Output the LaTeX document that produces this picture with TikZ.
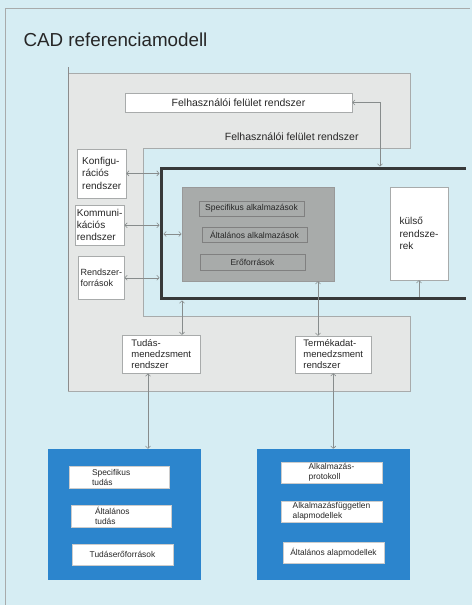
\documentclass[tikz,border=0pt]{standalone}
\usepackage{xcolor}
\usepackage{fontspec}
\setmainfont{Liberation Sans}
\usepackage{tikz}
\usetikzlibrary{calc}
\usetikzlibrary{arrows,arrows.meta}
\definecolor{hatter}{RGB}{214,237,243}
\definecolor{panel}{RGB}{229,231,230}
\definecolor{panelvonal}{RGB}{168,171,171}
\definecolor{sotet}{RGB}{168,171,170}
\definecolor{kek}{RGB}{44,133,205}
\definecolor{nyil}{RGB}{135,140,140}
\definecolor{keret}{RGB}{55,57,57}
\tikzstyle{every node}=[font=\fontsize{10}{12}\selectfont, text=black!85]
\tikzstyle{feher}=[draw=panelvonal, fill=white, inner sep=0pt, align=left]
\tikzstyle{szurke}=[draw=black!50, fill=sotet, inner sep=0pt, font=\fontsize{8.5}{10}\selectfont]
\tikzstyle{kekdoboz}=[fill=kek, inner sep=0pt]
\tikzstyle{belso}=[draw=black!20, fill=white, inner sep=0pt, align=left, font=\fontsize{8.4}{10}\selectfont]
\tikzstyle{kapcs}=[<->, >={To[length=3pt, width=5.5pt]}, draw=nyil, line width=.6pt]

\begin{document}
\begin{tikzpicture}[x=1pt, y=-1pt]
                \useasboundingbox (0,0) rectangle (472,605);
                \fill[hatter] (0,0) rectangle (472,605);
                \draw[panelvonal] (5,605) -- (5,8) -- (470,8);
                \node[anchor=base west, font=\fontsize{18.8}{22}\selectfont] (cim) at (20,46) {CAD referenciamodell};

                \draw[fill=panel, draw=panelvonal] (68,73) -- (410,73) -- (410,148) -- (143,148) -- (143,316.5) -- (410,316.5) -- (410,391) -- (68,391) -- cycle;
                \draw[black!45] (68,67) -- (68,391);
                \draw[keret, line width=3pt] (466,168.5) -- (161.5,168.5) -- (161.5,298.5) -- (466,298.5);

                \node[feher, minimum width=227pt, minimum height=19pt, font=\fontsize{10.5}{12}\selectfont] (ffr) at (238.5,102.5) {Felhasználói felület rendszer};
                \node[font=\fontsize{10.5}{12}\selectfont] (ffrfelirat) at (291.7,137) {Felhasználói felület rendszer};

                \node[feher, minimum width=48.7pt, minimum height=48.7pt, font=\fontsize{10}{12.3}\selectfont] (konfig) at (101.7,173.4) {Konfigu-\\rációs\\rendszer};
                \node[feher, minimum width=49.3pt, minimum height=39.3pt] (kommun) at (99.7,225.3) {Kommuni-\\kációs\\rendszer};
                \node[feher, minimum width=46pt, minimum height=42.3pt, font=\fontsize{9}{11.5}\selectfont] (rforr) at (101.3,277.8) {Rendszer-\\források};

                \node[szurke, draw=black!40, minimum width=152.3pt, minimum height=94pt] (alkalm) at (257.9,234) {};
                \node[szurke, minimum width=105pt, minimum height=15pt] (specalk) at (251.5,208.5) {Specifikus alkalmazások};
                \node[szurke, minimum width=105pt, minimum height=15pt] (altalk) at (254.5,234.5) {Általános alkalmazások};
                \node[szurke, minimum width=105pt, minimum height=16pt] (eroforr) at (252.5,262) {Erőforrások};

                \node[feher, minimum width=58pt, minimum height=93pt, font=\fontsize{10}{12.5}\selectfont] (kulso) at (419,233.5) {külső\\rendsze-\\rek};

                \node[feher, minimum width=77.3pt, minimum height=38.3pt, font=\fontsize{9.5}{11}\selectfont] (tudas) at (161.3,354.2) {Tudás-\\menedzsment\\rendszer};
                \node[feher, minimum width=76.7pt, minimum height=37pt, font=\fontsize{9.5}{11}\selectfont] (termek) at (333.3,354.5) {Termékadat-\\menedzsment\\rendszer};

                \node[kekdoboz, minimum width=153pt, minimum height=131pt] (tudasbazis) at (124.5,514.5) {};
                \node[kekdoboz, minimum width=153pt, minimum height=131pt] (termekmodell) at (333.5,514.5) {};

                \node[belso, minimum width=100pt, minimum height=22pt, text width=54pt, inner xsep=23pt] (spectud) at (119,477) {Specifikus\\tudás};
                \node[belso, minimum width=100pt, minimum height=22pt, text width=52pt, inner xsep=24pt] (alttud) at (121,516) {Általános\\tudás};
                \node[belso, minimum width=101pt, minimum height=21pt] (tudero) at (122.5,554.5) {Tudáserőforrások};

                \node[belso, minimum width=101pt, minimum height=21pt] (alkprot) at (331.5,472.5) {Alkalmazás-\\protokoll};
                \node[belso, minimum width=101pt, minimum height=21pt] (alkfugg) at (331.5,511.5) {Alkalmazásfüggetlen\\alapmodellek};
                \node[belso, minimum width=101pt, minimum height=21pt] (altalap) at (333.5,552.5) {Általános alapmodellek};

                \coordinate (fentnyil) at (380,166.5);
                \coordinate (balkeret) at (159.5,0);
                \coordinate (belkeret) at (163.5,0);
                \coordinate (alsokeret) at (0,300.5);
                \coordinate (alsobelul) at (0,296.5);
                \coordinate (tx) at (182,0);
                \coordinate (px) at (318,0);
                \coordinate (kx) at (148,0);

                \draw[kapcs] (ffr.east) -| (fentnyil);
                \draw[kapcs] (konfig.east) -- (konfig.east -| balkeret);
                \draw[kapcs] (kommun.east) -- (kommun.east -| balkeret);
                \draw[kapcs] (rforr.east) -- (rforr.east -| balkeret);
                \draw[kapcs] (belkeret |- alkalm.west) -- (alkalm.west);
                \draw[kapcs, <-] (kulso.south) -- (kulso.south |- alsobelul);
                \draw[kapcs] (tx |- alsokeret) -- (tx |- tudas.north);
                \draw[kapcs] (px |- alkalm.south) -- (px |- termek.north);
                \draw[kapcs] (kx |- tudas.south) -- (kx |- tudasbazis.north);
                \draw[kapcs] (termek.south) -- (termek.south |- termekmodell.north);
            \end{tikzpicture}
\end{document}
